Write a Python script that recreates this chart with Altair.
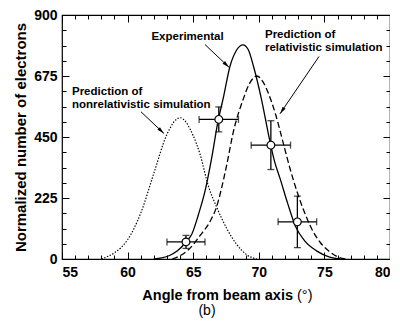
import math
import altair as alt
import pandas as pd

# ---------------- data ----------------
# Experimental distribution (solid)
exp_angle = [62.0, 62.6, 63.2, 63.8, 64.4, 64.9, 65.4, 65.9, 66.4, 66.9, 67.3, 67.8,
             68.3, 68.8, 69.2, 69.6, 70.2, 70.8, 71.2, 71.6, 72.2, 72.8, 73.5, 74.4,
             75.4, 76.2]
exp_count = [0, 4, 13, 30, 60, 92, 164, 250, 370, 510, 595, 710,
             770, 790, 772, 710, 590, 445, 360, 300, 205, 120, 67, 30,
             7, 0]

# Prediction of relativistic simulation (dashed)
rel_angle = [63.4, 64.0, 64.8, 65.5, 66.3, 66.8, 67.1, 67.55, 68.05, 68.8, 69.3, 69.85,
             70.3, 70.7, 71.3, 71.85, 72.4, 73.0, 73.6, 74.15, 74.7, 75.4, 76.0, 76.7]
rel_count = [0, 12, 42, 85, 140, 195, 249, 346, 467, 588, 648, 675,
             655, 615, 530, 430, 330, 236, 158, 100, 60, 27, 8, 0]

# Prediction of nonrelativistic simulation (dotted)
nonrel_angle = [58.0, 59.0, 59.5, 60.0, 61.0, 62.0, 63.0, 64.0, 65.0, 65.5, 66.15,
                66.8, 67.55, 68.3, 69.1, 69.85]
nonrel_count = [0, 23, 42, 71, 169, 316, 460, 521, 455, 390, 270,
                190, 113, 55, 15, 0]

# Measured points with error bars
pt_angle = [64.45, 66.95, 70.92, 72.94]
pt_count = [63, 515, 420, 137]
pt_xerr = [1.45, 1.5, 1.5, 1.47]
pt_yerr = [24, 46, 90, 95]

# Axis ticks
x_major = [55, 60, 65, 70, 75, 80]
x_minor = [55, 56, 57, 58, 59, 60, 61, 62, 63, 64, 65, 66, 67, 68, 69, 70,
           71, 72, 73, 74, 75, 76, 77, 78, 79, 80]
y_major = [0, 225, 450, 675, 900]
y_minor = [0, 56.25, 112.5, 168.75, 225, 281.25, 337.5, 393.75, 450, 506.25,
           562.5, 618.75, 675, 731.25, 787.5, 843.75, 900]

# Annotations (data coordinates)
ann_text = ["Experimental", "Prediction of", "relativistic simulation",
            "Prediction of", "nonrelativistic simulation"]
ann_x = [64.57, 70.47, 70.47, 55.76, 55.76]
ann_y = [818, 827, 780, 616, 569]
ann_align = ["center", "left", "left", "left", "left"]

arrow_x = [65.9, 74.59, 61.02]
arrow_y = [791, 747, 543]
arrow_tip_x = [67.73, 71.62, 62.77]
arrow_tip_y = [707, 536, 463]

# ---------------- chart ----------------
W, H = 328, 244
FONT = "Liberation Sans"
X_DOM = [55, 80]
Y_DOM = [0, 900]

xs = alt.Scale(domain=X_DOM, nice=False, zero=False)
ys = alt.Scale(domain=Y_DOM, nice=False, zero=False)


def tick_axis(orient, values, size, offset):
    return alt.Axis(orient=orient, values=values, tickSize=size, offset=offset,
                    labels=False, domain=False, title=None, grid=False,
                    ticks=True, tickColor="black", tickWidth=1)


exp_df = pd.DataFrame({"angle": exp_angle, "count": exp_count})
rel_df = pd.DataFrame({"angle": rel_angle, "count": rel_count})
non_df = pd.DataFrame({"angle": nonrel_angle, "count": nonrel_count})

pts = pd.DataFrame({"angle": pt_angle, "count": pt_count})
pts["xlo"] = [a - e for a, e in zip(pt_angle, pt_xerr)]
pts["xhi"] = [a + e for a, e in zip(pt_angle, pt_xerr)]
pts["ylo"] = [c - e for c, e in zip(pt_count, pt_yerr)]
pts["yhi"] = [c + e for c, e in zip(pt_count, pt_yerr)]

vcaps = pd.DataFrame({"cx": pt_angle + pt_angle,
                      "cy": list(pts["ylo"]) + list(pts["yhi"])})
hcaps = pd.DataFrame({"cx": list(pts["xlo"]) + list(pts["xhi"]),
                      "cy": pt_count + pt_count})

solid = alt.Chart(exp_df).mark_line(color="black", strokeWidth=1.3,
                                    interpolate="monotone").encode(
    x=alt.X("angle:Q", scale=xs, axis=alt.Axis(
        orient="bottom", values=x_major, ticks=False, tickSize=0, domain=False,
        labelPadding=6, labelFont=FONT, labelFontWeight="bold", labelFontSize=14,
        labelColor="black", title=None, grid=False)),
    y=alt.Y("count:Q", scale=ys, axis=alt.Axis(
        orient="left", values=y_major, ticks=False, tickSize=0, domain=False,
        labelPadding=5, labelFont=FONT, labelFontWeight="bold", labelFontSize=14,
        labelColor="black", grid=False,
        title="Normalized number of electrons", titleFont=FONT,
        titleFontWeight="bold", titleFontSize=15, titleColor="black",
        titlePadding=5)),
)

dashed = alt.Chart(rel_df).mark_line(color="black", strokeWidth=1.3,
                                     strokeDash=[6, 3],
                                     interpolate="monotone").encode(
    x=alt.X("angle:Q", scale=xs, axis=tick_axis("top", x_minor, 4, -H)),
    y=alt.Y("count:Q", scale=ys, axis=tick_axis("right", y_minor, 4, -W)),
)

dotted = alt.Chart(non_df).mark_line(color="black", strokeWidth=1.2,
                                     strokeDash=[1.4, 1.6],
                                     interpolate="monotone").encode(
    x=alt.X("angle:Q", scale=xs, axis=tick_axis("top", x_major, 7, -H)),
    y=alt.Y("count:Q", scale=ys, axis=tick_axis("right", y_major, 7, -W)),
)

hbar = alt.Chart(pts).mark_rule(color="black", strokeWidth=1.3).encode(
    x=alt.X("xlo:Q", scale=xs, axis=tick_axis("bottom", x_minor, 4, -H)),
    x2="xhi:Q",
    y=alt.Y("count:Q", scale=ys, axis=tick_axis("left", y_minor, 4, -W)),
)

vbar = alt.Chart(pts).mark_rule(color="black", strokeWidth=1.3).encode(
    x=alt.X("angle:Q", scale=xs, axis=tick_axis("bottom", x_major, 7, -H)),
    y=alt.Y("ylo:Q", scale=ys, axis=tick_axis("left", y_major, 7, -W)),
    y2="yhi:Q",
)

vcap = alt.Chart(vcaps).mark_tick(color="black", orient="horizontal", size=7,
                                  thickness=1.3).encode(
    x=alt.X("cx:Q", scale=xs, axis=None),
    y=alt.Y("cy:Q", scale=ys, axis=None),
)

hcap = alt.Chart(hcaps).mark_tick(color="black", orient="vertical", size=7,
                                  thickness=1.3).encode(
    x=alt.X("cx:Q", scale=xs, axis=None),
    y=alt.Y("cy:Q", scale=ys, axis=None),
)

circles = alt.Chart(pts).mark_point(shape="circle", filled=True, fill="white",
                                    fillOpacity=1, opacity=1, stroke="black",
                                    strokeWidth=1.2, size=60).encode(
    x=alt.X("angle:Q", scale=xs, axis=None),
    y=alt.Y("count:Q", scale=ys, axis=None),
)

ann_df = pd.DataFrame({"x": ann_x, "y": ann_y, "t": ann_text, "al": ann_align})
ann_center = alt.Chart(ann_df[ann_df["al"] == "center"]).mark_text(
    font=FONT, fontWeight="bold", fontSize=11.5, color="black",
    align="center", baseline="middle").encode(
    x=alt.X("x:Q", scale=xs, axis=None),
    y=alt.Y("y:Q", scale=ys, axis=None),
    text="t:N",
)
ann_left = alt.Chart(ann_df[ann_df["al"] == "left"]).mark_text(
    font=FONT, fontWeight="bold", fontSize=11.5, color="black",
    align="left", baseline="middle").encode(
    x=alt.X("x:Q", scale=xs, axis=None),
    y=alt.Y("y:Q", scale=ys, axis=None),
    text="t:N",
)

px_x = W / (X_DOM[1] - X_DOM[0])
px_y = H / (Y_DOM[1] - Y_DOM[0])
arr_ang = []
for x0, y0, x1, y1 in zip(arrow_x, arrow_y, arrow_tip_x, arrow_tip_y):
    dx = (x1 - x0) * px_x
    dy = -(y1 - y0) * px_y
    arr_ang.append(math.degrees(math.atan2(dx, -dy)) % 360)

arr_df = pd.DataFrame({"x": arrow_x, "y": arrow_y, "x2": arrow_tip_x,
                       "y2": arrow_tip_y, "ang": arr_ang})

arrow_lines = alt.Chart(arr_df).mark_rule(color="black", strokeWidth=1).encode(
    x=alt.X("x:Q", scale=xs, axis=None),
    y=alt.Y("y:Q", scale=ys, axis=None),
    x2="x2:Q",
    y2="y2:Q",
)

arrow_heads = alt.Chart(arr_df).mark_point(
    shape="M0,0 L0.6,2.4 L-0.6,2.4 Z", filled=True, fill="black",
    fillOpacity=1, opacity=1, strokeWidth=0, size=36).encode(
    x=alt.X("x2:Q", scale=xs, axis=None),
    y=alt.Y("y2:Q", scale=ys, axis=None),
    angle=alt.Angle("ang:Q", scale=None),
)

lab_df = pd.DataFrame({"t": ["Angle from beam axis"], "u": ["(°)"], "b": ["(b)"]})
xtitle = alt.Chart(lab_df).mark_text(font=FONT, fontWeight="bold", fontSize=14.5,
                                     color="black", align="right",
                                     baseline="alphabetic").encode(
    x=alt.value(231), y=alt.value(285), text="t:N")
xunit = alt.Chart(lab_df).mark_text(font=FONT, fontSize=14.5, color="black",
                                    align="left", baseline="alphabetic").encode(
    x=alt.value(235), y=alt.value(285), text="u:N")
panel = alt.Chart(lab_df).mark_text(font=FONT, fontSize=14, color="black",
                                    align="center", baseline="alphabetic").encode(
    x=alt.value(145), y=alt.value(300), text="b:N")

chart = alt.layer(
    solid, dashed, dotted, hbar, vbar, vcap, hcap, circles,
    arrow_lines, arrow_heads, ann_center, ann_left, xtitle, xunit, panel,
).resolve_axis(
    x="independent", y="independent"
).properties(
    width=W, height=H,
    autosize=alt.AutoSizeParams(type="none"),
    padding={"left": 54, "top": 7, "right": 0, "bottom": 60},
    background="white",
).configure_view(
    stroke="black", strokeWidth=1.2
)

chart.save("out.html", embed_options={"renderer": "svg", "actions": False})
